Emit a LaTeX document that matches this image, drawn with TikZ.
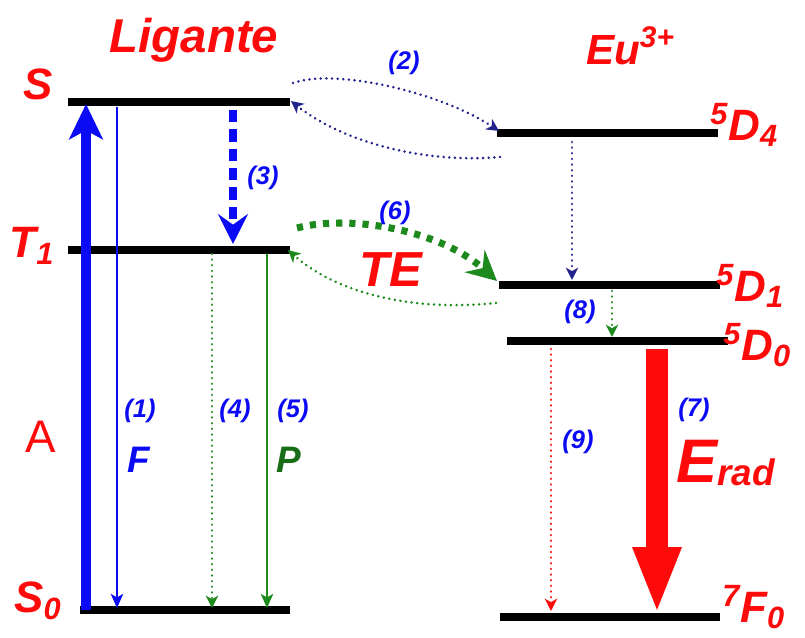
\documentclass[tikz,border=0pt]{standalone}
\usepackage{fontspec}
\setmainfont{Liberation Sans}
\usetikzlibrary{arrows.meta}

\begin{document}
\begin{tikzpicture}[x=0.02cm,y=-0.02cm,>=Stealth]
  \definecolor{ered}{HTML}{FF0A0A}
  \definecolor{eblue}{HTML}{0A0AF5}
  \definecolor{enavy}{HTML}{23238C}
  \definecolor{egreen}{HTML}{1E8A1E}
  \tikzset{
    level/.style={line width=4pt,black},
    title/.style={text=ered,font=\bfseries\itshape\fontsize{27}{30}\selectfont},
    state/.style={text=ered,font=\bfseries\itshape\fontsize{25}{28}\selectfont,inner sep=0pt},
    num/.style={text=eblue,font=\bfseries\itshape\fontsize{14.5}{17}\selectfont,inner sep=0pt},
    dotline/.style={line width=1.6pt,dash pattern=on 0.01pt off 3.2pt,line cap=round,-{Stealth[length=7pt,width=7pt,inset=2pt]}}
  }
  \useasboundingbox (0,0) rectangle (805,638);
  % levels of the ligand
  \coordinate (S-l) at (68,102);   \coordinate (S-r) at (290,102);
  \coordinate (T1-l) at (68,250);  \coordinate (T1-r) at (290,250);
  \coordinate (S0-l) at (80,610);  \coordinate (S0-r) at (290,610);
  % levels of the ion
  \coordinate (D4-l) at (497,133); \coordinate (D4-r) at (718,133);
  \coordinate (D1-l) at (499,285); \coordinate (D1-r) at (720,285);
  \coordinate (D0-l) at (507,341); \coordinate (D0-r) at (728,341);
  \coordinate (F0-l) at (500,617); \coordinate (F0-r) at (720,617);
  \foreach \lv in {S,T1,S0,D4,D1,D0,F0}
    \draw[level] (\lv-l) -- (\lv-r);

  \node[title] (ligante) at (194,40) {Ligante};
  \node[title,font=\bfseries\itshape\fontsize{24}{27}\selectfont] (eu) at (630,46) {Eu{\fontsize{17}{19}\selectfont\raisebox{1.1ex}{3+}}};
  \node[state] (lS) at (38,84) {S};
  \node[state] (lT1) at (32,246) {T\textsubscript{1}};
  \node[state] (lS0) at (38,601) {S\textsubscript{0}};
  \node[state,font=\fontsize{26}{28}\selectfont] (lA) at (41,437) {A};
  \node[state,anchor=west] (lD4) at (710,125) {\textsuperscript{5}D\textsubscript{4}};
  \node[state,anchor=west] (lD1) at (716,286) {\textsuperscript{5}D\textsubscript{1}};
  \node[state,anchor=west] (lD0) at (723,345) {\textsuperscript{5}D\textsubscript{0}};
  \node[state,anchor=west] (lF0) at (722,607) {\textsuperscript{7}F\textsubscript{0}};

  % absorption and fluorescence
  \coordinate (abs-a) at (86,610);  \coordinate (abs-b) at (86,104);
  \draw[eblue,line width=6pt,-{Stealth[length=20pt,width=19pt,inset=5pt]}] (abs-a) -- (abs-b);
  \coordinate (fl-a) at (117,107);  \coordinate (fl-b) at (117,608);
  \draw[eblue,line width=1.3pt,-{Stealth[length=8pt,width=7pt,inset=2pt]}] (fl-a) -- (fl-b);
  \node[num] (n1) at (140,411) {(1)};
  \node[num,font=\bfseries\itshape\fontsize{21}{24}\selectfont] (nF) at (139,460) {F};

  % intersystem crossing
  \coordinate (isc-a) at (233,110); \coordinate (isc-b) at (233,244);
  \draw[eblue,line width=4pt,dash pattern=on 7pt off 4pt,-{Stealth[length=17pt,width=17pt,inset=6pt]}] (isc-a) -- (isc-b);
  \node[num] (n3) at (263,178) {(3)};

  % phosphorescence
  \coordinate (np-a) at (212,254);  \coordinate (np-b) at (212,608);
  \draw[egreen,dotline] (np-a) -- (np-b);
  \coordinate (ph-a) at (267,254);  \coordinate (ph-b) at (267,608);
  \draw[egreen,line width=1.3pt,-{Stealth[length=8pt,width=7pt,inset=2pt]}] (ph-a) -- (ph-b);
  \node[num] (n4) at (235,411) {(4)};
  \node[num] (n5) at (293,411) {(5)};
  \node[num,text=egreen!80!black,font=\bfseries\itshape\fontsize{21}{24}\selectfont] (nP) at (289,460) {P};

  % transfer S <-> 5D4
  \coordinate (tS-a) at (293,83);   \coordinate (tS-b) at (499,131);
  \draw[enavy,dotline] (tS-a) .. controls (335,68) and (440,92) .. (tS-b);
  \coordinate (bS-a) at (500,157);  \coordinate (bS-b) at (291,101);
  \draw[enavy,dotline] (bS-a) .. controls (420,164) and (340,140) .. (bS-b);
  \node[num] (n2) at (404,63) {(2)};

  % transfer T1 <-> 5D1
  \coordinate (tT-a) at (297,228);  \coordinate (tT-b) at (497,281);
  \draw[egreen,line width=4pt,dash pattern=on 3.5pt off 4pt,-{Stealth[length=17pt,width=17pt,inset=6pt]}] (tT-a) .. controls (350,214) and (440,230) .. (tT-b);
  \coordinate (bT-a) at (496,303);  \coordinate (bT-b) at (288,250);
  \draw[egreen,dotline] (bT-a) .. controls (410,312) and (335,292) .. (bT-b);
  \node[num] (n6) at (395,213) {(6)};
  \node[state,font=\bfseries\itshape\fontsize{28}{30}\selectfont] (nTE) at (391,270) {TE};

  % relaxation in the ion
  \coordinate (r4-a) at (572,142);  \coordinate (r4-b) at (572,280);
  \draw[enavy,dotline] (r4-a) -- (r4-b);
  \coordinate (r1-a) at (612,291);  \coordinate (r1-b) at (612,337);
  \draw[egreen,dotline] (r1-a) -- (r1-b);
  \node[num] (n8) at (580,312) {(8)};

  % emission from 5D0
  \coordinate (nr-a) at (551,349);  \coordinate (nr-b) at (551,611);
  \draw[ered,dotline] (nr-a) -- (nr-b);
  \node[num] (n9) at (578,442) {(9)};
  \coordinate (em-a) at (657,349);  \coordinate (em-b) at (657,614);
  \draw[ered,line width=12pt,-{Triangle[length=38pt,width=25pt]}] (em-a) -- (em-b);
  \node[num] (n7) at (694,410) {(7)};
  \node[state,font=\bfseries\itshape\fontsize{35}{38}\selectfont,anchor=base west] (nE) at (676,482) {E{\fontsize{21}{23}\selectfont\raisebox{-0.2ex}{rad}}};
\end{tikzpicture}
\end{document}
